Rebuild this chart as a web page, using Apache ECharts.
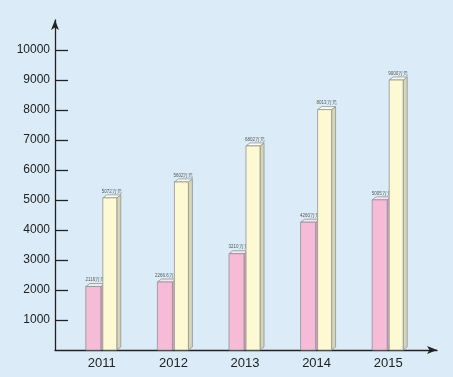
<!DOCTYPE html>
<html>
<head>
<meta charset="utf-8">
<script src="https://cdn.jsdelivr.net/npm/echarts@6/dist/echarts.min.js"></script>
<style>
  html, body { margin: 0; padding: 0; background: #dbecf8; }
  #chart { width: 453px; height: 377px; }
</style>
</head>
<body>
<div id="chart"></div>
<script>
// data
const years = ['2011', '2012', '2013', '2014', '2015'];
const pinkValues = [2116, 2266.6, 3210, 4260, 5005];
const yellowValues = [5072, 5602, 6802, 8013, 9000];
const yTicks = [1000, 2000, 3000, 4000, 5000, 6000, 7000, 8000, 9000, 10000];
const unit = '万元';

const chart = echarts.init(document.getElementById('chart'));

// front / top / side colours for the two bar sets
const pinkStyle = { front: '#f6bbd6', top: '#fbe3ef', side: '#d9a3bd' };
const yellowStyle = { front: '#fdf9d2', top: '#fffdf0', side: '#d8d4b6' };
const depthX = 4, depthY = 3;

function bar3d(x0, w, yTop, yBot, st, label) {
  const stroke = '#8f9496';
  return [
    { type: 'polygon', shape: { points: [[x0 + w, yTop], [x0 + w + depthX, yTop - depthY], [x0 + w + depthX, yBot - depthY], [x0 + w, yBot]] },
      style: { fill: st.side, stroke: stroke, lineWidth: 0.8 } },
    { type: 'polygon', shape: { points: [[x0, yTop], [x0 + depthX, yTop - depthY], [x0 + w + depthX, yTop - depthY], [x0 + w, yTop]] },
      style: { fill: st.top, stroke: stroke, lineWidth: 0.8 } },
    { type: 'rect', shape: { x: x0, y: yTop, width: w, height: yBot - yTop },
      style: { fill: st.front, stroke: stroke, lineWidth: 0.8 } },
    { type: 'text', style: { text: label, x: x0 + w / 2 + 2, y: yTop - depthY - 1, align: 'center', verticalAlign: 'bottom',
      fontSize: 4.5, fill: '#555', fontFamily: 'Liberation Sans' } }
  ];
}

function renderItem(params, api) {
  const i = api.value(0);
  const base = api.coord([i, 0]);
  const pinkTop = api.coord([i, api.value(1)])[1];
  const yellowTop = api.coord([i, api.value(2)])[1];
  const cx = base[0];
  return {
    type: 'group',
    children: []
      .concat(bar3d(cx - 16, 15, pinkTop, base[1], pinkStyle, pinkValues[i] + unit))
      .concat(bar3d(cx + 1, 14, yellowTop, base[1], yellowStyle, yellowValues[i] + unit))
  };
}

const option = {
  backgroundColor: '#dbecf8',
  animation: false,
  grid: [
    { left: 55, right: 16, top: 20, bottom: 27 },
    { left: 66, right: 29, top: 20, bottom: 27 },
    { left: 55, right: 385, top: 20, bottom: 27 }
  ],
  xAxis: [
    {
      gridIndex: 0, type: 'value', min: 0, max: 1,
      axisLine: { show: true, lineStyle: { color: '#222', width: 1.3 }, symbol: ['none', 'arrow'], symbolSize: [6, 10] },
      axisTick: { show: false }, axisLabel: { show: false }, splitLine: { show: false }
    },
    {
      gridIndex: 1, type: 'category', data: years,
      axisLine: { show: false }, axisTick: { show: false },
      axisLabel: { margin: 7, fontSize: 13, color: '#222', fontFamily: 'Liberation Sans' }
    },
    { gridIndex: 2, type: 'value', min: 0, max: 1, show: false }
  ],
  yAxis: [
    {
      gridIndex: 0, type: 'value', min: 0, max: 11000,
      axisLine: { show: true, lineStyle: { color: '#222', width: 1.3 }, symbol: ['none', 'arrow'], symbolSize: [6, 10] },
      axisTick: { show: false },
      axisLabel: { customValues: yTicks, margin: 5, fontSize: 12, color: '#222', fontFamily: 'Liberation Sans',
        formatter: v => String(v) },
      splitLine: { show: false }
    },
    { gridIndex: 1, type: 'value', min: 0, max: 11000, show: false },
    {
      // short tick marks pointing into the plot
      gridIndex: 2, type: 'value', min: 0, max: 11000, interval: 1000,
      axisLine: { show: false }, axisTick: { show: false }, axisLabel: { show: false },
      splitLine: { show: true, showMinLine: false, showMaxLine: false, lineStyle: { color: '#222', width: 1.3 } }
    }
  ],
  series: [
    {
      type: 'custom',
      xAxisIndex: 1,
      yAxisIndex: 1,
      renderItem: renderItem,
      data: years.map((y, i) => [i, pinkValues[i], yellowValues[i]])
    }
  ]
};

chart.setOption(option);
</script>
</body>
</html>
